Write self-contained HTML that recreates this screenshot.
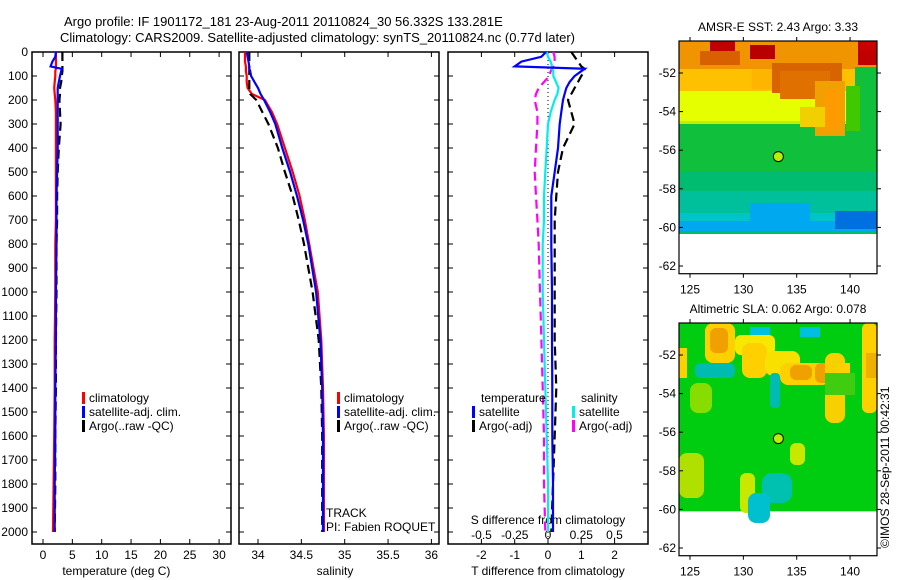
<!DOCTYPE html>
<html><head><meta charset="utf-8">
<style>
html,body{margin:0;padding:0;background:#fff;}
svg{display:block;font-family:"Liberation Sans",sans-serif;}
text{font-size:12px;fill:#000;}
</style></head>
<body>
<svg id="chart" width="900" height="580" viewBox="0 0 900 580" xmlns="http://www.w3.org/2000/svg">
<text x="64" y="26" style="font-size:13px">Argo profile: IF 1901172_181 23-Aug-2011 20110824_30 56.332S 133.281E</text>
<text x="60" y="42" style="font-size:13px">Climatology: CARS2009. Satellite-adjusted climatology: synTS_20110824.nc (0.77d later)</text>
<g id="panels"></g>
<g id="maps"></g>
<text transform="translate(889,548) rotate(-90)" style="font-size:12px">©IMOS 28-Sep-2011 00:42:31</text>
</svg>
<script>
const depths=[0,20,40,60,70,80,100,125,150,175,200,250,300,400,500,600,700,800,1000,1200,1400,1600,1800,2000];
const tempClim=[2.2,2.2,2.2,2.2,2.2,2.1,2.1,2.0,1.9,2.0,2.1,2.2,2.2,2.2,2.2,2.2,2.2,2.1,2.1,2.0,2.0,1.9,1.8,1.7];
const tempSat=[2.2,2.1,1.6,1.3,3.2,3.1,2.9,2.7,2.5,2.5,2.5,2.5,2.5,2.5,2.4,2.3,2.3,2.3,2.2,2.2,2.1,2.1,2.0,2.0];
const tempArgo=[3.3,3.3,3.3,3.3,3.3,3.3,3.2,3.1,2.9,2.9,2.8,2.9,3.0,2.7,2.5,2.4,2.4,2.3,2.3,2.2,2.2,2.1,2.1,2.0];
const salClim=[33.85,33.85,33.85,33.86,33.86,33.86,33.87,33.87,33.88,33.93,34.08,34.16,34.22,34.31,34.40,34.48,34.54,34.59,34.69,34.73,34.75,34.76,34.76,34.76];
const salSat=[33.87,33.88,33.89,33.90,33.90,33.91,33.92,33.96,34.00,34.03,34.07,34.14,34.20,34.28,34.37,34.45,34.52,34.58,34.67,34.72,34.74,34.75,34.75,34.75];
const salArgo=[33.90,33.90,33.90,33.90,33.90,33.90,33.90,33.90,33.90,33.91,33.98,34.05,34.12,34.23,34.31,34.40,34.47,34.53,34.63,34.70,34.73,34.74,34.74,34.74];
const dTsat=[-0.06,-0.2,-0.8,-1.0,1.1,1.0,0.8,0.65,0.55,0.5,0.45,0.4,0.35,0.3,0.2,0.1,0.1,0.1,0.12,0.12,0.13,0.13,0.15,0.15];
const dTargo=[0.7,0.8,0.9,1.0,1.1,1.1,1.0,0.9,0.8,0.7,0.6,0.7,0.8,0.45,0.3,0.25,0.2,0.2,0.2,0.2,0.25,0.2,0.15,0.1];
const dSsat=[-0.01,0.0,0.02,0.03,0.03,0.04,0.04,0.06,0.08,0.07,0.05,0.02,0.0,-0.01,-0.02,-0.03,-0.03,-0.04,-0.04,-0.03,-0.02,-0.01,0.0,0.0];
const dSargo=[0.04,0.05,0.05,0.04,0.03,0.02,0.01,-0.03,-0.07,-0.09,-0.1,-0.08,-0.08,-0.09,-0.1,-0.09,-0.08,-0.07,-0.06,-0.05,-0.04,-0.03,-0.03,-0.02];
const depthTicks=[0,100,200,300,400,500,600,700,800,900,1000,1100,1200,1300,1400,1500,1600,1700,1800,1900,2000];
const tempTicks=[0,5,10,15,20,25,30];
const salTicks=[34,34.5,35,35.5,36];
const tdTicks=[-2,-1,0,1,2];
const sdTicks=[-0.5,-0.25,0,0.25,0.5];
const lonTicks=[125,130,135,140];
const latTicks=[52,54,56,58,60,62];
const argoLon=133.281, argoLat=56.332;

const NS="http://www.w3.org/2000/svg";
function mk(tag,attrs,parent,txt){const e=document.createElementNS(NS,tag);for(const k in attrs)e.setAttribute(k,attrs[k]);if(txt!==undefined)e.textContent=txt;parent.appendChild(e);return e;}
const yD=d=>52+d*0.24;
const xT=t=>43+t*5.87;
const xS=s=>258+(s-34)*86.7;
const xdT=t=>548+t*33.3;
const xdS=s=>548+s*133;
const P=document.getElementById('panels');
const boxes=[[32,231],[239,439],[448,648]];
const TOP=52,BOT=544;
boxes.forEach((b,i)=>{
  const r=mk('rect',{x:b[0],y:TOP,width:b[1]-b[0],height:BOT-TOP,fill:'none',stroke:'#000','stroke-width':1.5},P);
  
  
  depthTicks.forEach(d=>{
    mk('line',{x1:b[0],x2:b[0]+5,y1:yD(d),y2:yD(d),stroke:'#000'},P);
    mk('line',{x1:b[1]-5,x2:b[1],y1:yD(d),y2:yD(d),stroke:'#000'},P);
  });
});
depthTicks.forEach(d=>{
  const t=mk('text',{x:28,y:yD(d)+4,'text-anchor':'end'},P,String(d));
  
  
});
function xticks(vals,fx,y,labelY,fmt){
  vals.forEach(v=>{
    const x=fx(v);
    mk('line',{x1:x,x2:x,y1:TOP,y2:TOP+5,stroke:'#000'},P);
    mk('line',{x1:x,x2:x,y1:BOT-5,y2:BOT,stroke:'#000'},P);
    const t=mk('text',{x:x,y:labelY,'text-anchor':'middle'},P,fmt?fmt(v):String(v));
    
    
  });
}
xticks(tempTicks,xT,0,559);
xticks(salTicks,xS,0,559);
xticks(tdTicks,xdT,0,559);
sdTicks.forEach(v=>{const t=mk('text',{x:xdS(v),y:539,'text-anchor':'middle'},P,String(v));
  
  });
[[xT(12.5),'temperature (deg C)','x-axis-title-temperature'],[xS(34.75)+12,'salinity','x-axis-title-salinity'],[548,'T difference from climatology','x-axis-title-t-diff']].forEach(a=>{
  const t=mk('text',{x:a[0],y:575,'text-anchor':'middle'},P,a[1]);
  
  
});
const st=mk('text',{x:548,y:524,'text-anchor':'middle'},P,'S difference from climatology');


mk('line',{x1:548,x2:548,y1:TOP,y2:BOT,stroke:'#000','stroke-dasharray':'1,3'},P);

function line(vals,fx,color,dash,name){
  const pts=vals.map((v,i)=>fx(v).toFixed(1)+','+yD(depths[i]).toFixed(1)).join(' ');
  const a={points:pts,fill:'none',stroke:color,'stroke-width':2.2};
  if(dash)a['stroke-dasharray']=dash;
  const e=mk('polyline',a,P);
  
  
}
line(tempClim,xT,'#f00',null,'temp-climatology-line');
line(tempArgo,xT,'#000','9,5','temp-argo-line');
line(tempSat,xT,'#00f',null,'temp-satellite-line');
line(salClim,xS,'#f00',null,'sal-climatology-line');
line(salArgo,xS,'#000','9,5','sal-argo-line');
line(salSat,xS,'#00f',null,'sal-satellite-line');
line(dSargo,xdS,'#f0f','9,5','s-diff-argo-line');
line(dTargo,xdT,'#000','9,5','t-diff-argo-line');
line(dSsat,xdS,'#0ee',null,'s-diff-satellite-line');
line(dTsat,xdT,'#00f',null,'t-diff-satellite-line');

function legend(x,y,items,prefix){
  items.forEach((it,i)=>{
    const yy=y+i*14;
    mk('rect',{x:x,y:yy-10,width:3,height:12,fill:it[1]},P);
    const t=mk('text',{x:x+7,y:yy},P,it[0]);
    
    
  });
}
const L1=[['climatology','#f00'],['satellite-adj. clim.','#00f'],['Argo(..raw -QC)','#000']];
legend(82,402,L1,'temp');
legend(337,402,L1,'sal');
[['temperature',481,402],['salinity',581,402]].forEach(a=>{const t=mk('text',{x:a[1],y:a[2]},P,a[0]);
  
  });
legend(472,416,[['satellite','#00f'],['Argo(-adj)','#000']],'t-diff');
legend(572,416,[['satellite','#0ee'],['Argo(-adj)','#f0f']],'s-diff');
const tr=mk('text',{x:326,y:517},P,'TRACK');


const pi=mk('text',{x:326,y:531},P,'PI: Fabien ROQUET');



// maps
const M=document.getElementById('maps');
function map(top,title,blobs,bg,name,labelBelow){
  const y52=top+32, py=19.3;
  const lonX=l=>690+(l-125)*10.67;
  const latY=l=>y52+(l-52)*py;
  const g=mk('g',{},M);
  
  
  const dataTop=top, dataBot=latY(60.1);
  mk('rect',{x:679,y:dataTop,width:198,height:dataBot-dataTop,fill:bg},g);
  blobs.forEach(b=>mk('rect',{x:b[0],y:top+b[1],width:b[2],height:b[3],fill:b[4],rx:b[5]||0},g));
  mk('rect',{x:679,y:top,width:198,height:latY(62.4)-top,fill:'none',stroke:'#000','stroke-width':1.2},g);
  lonTicks.forEach(l=>{const x=lonX(l);
    mk('line',{x1:x,x2:x,y1:top-4,y2:top,stroke:'#000'},g);
    mk('line',{x1:x,x2:x,y1:latY(62.4),y2:latY(62.4)+4,stroke:'#000'},g);
    const t=mk('text',{x:x,y:latY(62.4)+20,'text-anchor':'middle'},g,String(l));
    
    });
  latTicks.forEach(l=>{const y=latY(l);
    mk('line',{x1:679,x2:683,y1:y,y2:y,stroke:'#000'},g);
    mk('line',{x1:877,x2:881,y1:y,y2:y,stroke:'#000'},g);
    const t=mk('text',{x:676,y:y+4,'text-anchor':'end'},g,'-'+l);
    
    });
  const c=mk('circle',{cx:lonX(argoLon),cy:latY(argoLat),r:5,fill:'#b8f000',stroke:'#000','stroke-width':1},g);
  
  
  const t=mk('text',{x:778,y:top-10,'text-anchor':'middle'},g,title);
  
  
}
const sstBlobs=[
 [679,0,198,28,'#f09400'],[679,28,198,22,'#ffc000'],
 [679,50,198,30,'#e6ff00'],[679,80,198,30,'#bff000'],
 [679,83,198,110,'#10bf3c'],[679,130,198,62,'#00bc70'],
 [679,150,198,30,'#00c09c'],[679,172,198,18,'#00c4c8'],
 [679,180,198,10,'#00a8f0'],[750,162,60,28,'#00a8f0'],
 [835,170,42,18,'#0070e0'],
 [710,0,25,20,'#c00000'],[750,4,25,14,'#b80000'],[858,0,19,24,'#c00000'],[700,10,40,14,'#d86000'],
 [772,22,70,30,'#d86400'],[780,30,50,28,'#e07000'],[815,40,30,55,'#f0a000'],[825,48,15,40,'#ff9a00'],
 [752,28,20,20,'#ffb400'],
 [855,26,22,75,'#10bf3c'],[846,45,14,45,'#40c800'],
 [800,66,25,20,'#f0d000'],[860,0,17,10,'#c80000']];
map(41,'AMSR-E SST: 2.43 Argo: 3.33',sstBlobs,'#10bf3c','sst-map');
const slaBlobs=[
 [679,0,198,188,'#00cc10'],
 [705,0,30,40,'#ffd000',8],[710,5,18,25,'#f0a000',6],[735,12,40,20,'#f8e800',6],
 [742,20,25,35,'#ffd000',8],[765,28,35,25,'#f8e000',8],[780,40,50,22,'#ffd000',8],[790,42,22,15,'#f0a000',6],
 [815,40,20,20,'#f0a000',6],[825,30,20,70,'#f8d000',8],[838,40,12,20,'#ffd000'],
 [862,0,15,90,'#ffd000',6],[866,30,11,25,'#f0b000'],
 [679,25,8,30,'#ffd000'],[695,40,40,15,'#00bcb0',6],[690,60,22,30,'#88dd00',8],
 [770,50,10,35,'#00bcb0',4],[750,4,20,8,'#00c0e0'],[800,4,20,10,'#00c0e0'],
 [679,130,25,45,'#b0e000',8],[740,150,15,40,'#c8e800',6],[762,150,30,30,'#00c0b0',10],[748,170,22,30,'#00c0d0',8],
 [790,120,15,22,'#c8e800',6],[825,50,30,22,'#40cc10']];
map(323,'Altimetric SLA: 0.062 Argo: 0.078',slaBlobs,'#00cc10','sla-map');
</script>
</body></html>
